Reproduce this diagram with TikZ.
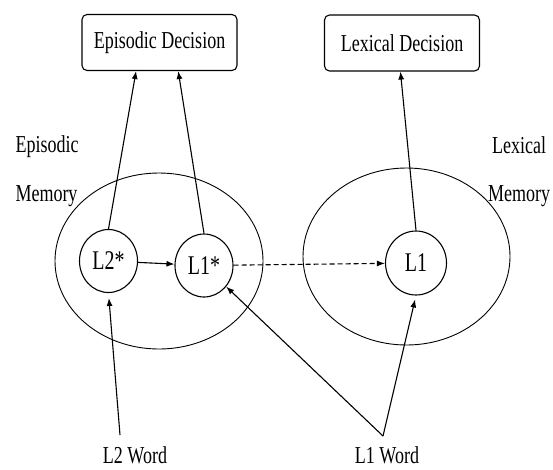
\documentclass[tikz,border=0pt]{standalone}
\usepackage{fontspec}
\usepackage{graphicx}
\setmainfont{Liberation Serif}
\usetikzlibrary{arrows.meta,shapes.geometric,calc}
\newcommand{\tallt}[1]{\scalebox{1}[1.35]{#1}}
\begin{document}
\begin{tikzpicture}[x=1pt,y=-1pt,
  font=\fontsize{18}{20}\selectfont,
  line width=1.1pt,
  decbox/.style={draw,rounded corners=5pt,minimum width=155pt,minimum height=56pt,inner sep=0pt},
  memory/.style={draw,ellipse,line width=0.9pt,inner sep=0pt},
  item/.style={draw,ellipse,inner sep=0pt,minimum width=58pt,minimum height=63pt,font=\fontsize{20}{22}\selectfont},
  arr/.style={-{Latex[length=8pt,width=6pt]}},
  lbl/.style={inner sep=0pt}]
\useasboundingbox (0,0) rectangle (553,469);
\node[decbox] (ED) at (159.5,42.5) {\tallt{Episodic Decision}};
\node[decbox] (LD) at (402,43) {\tallt{Lexical Decision}};
\node[memory,minimum width=208pt,minimum height=176pt] (EM) at (159,261) {};
\node[memory,minimum width=207pt,minimum height=177pt] (LM) at (406.5,256.5) {};
\node[lbl] (epi) at (47,147) {\tallt{Episodic}};
\node[lbl] (epim) at (46.5,196) {\tallt{Memory}};
\node[lbl] (lex) at (519,145) {\tallt{Lexical}};
\node[lbl] (lexm) at (519,196) {\tallt{Memory}};
\node[item] (L2s) at (108.5,261) {\tallt{L2*}};
\node[item] (L1s) at (204,265.5) {\tallt{L1*}};
\node[item,minimum width=61pt,minimum height=64pt] (L1) at (416,263) {\tallt{L1}};
\node[lbl] (w2) at (135,455) {\tallt{L2 Word}};
\node[lbl] (w1) at (387,455) {\tallt{L1 Word}};
\coordinate (w2top) at (120,435);
\coordinate (w1top) at (383,436);
\draw[arr] (L2s.north) -- ($(ED.south west)!0.35!(ED.south east)$);
\draw[arr] (L1s.north) -- ($(ED.south west)!0.62!(ED.south east)$);
\draw[arr] (L1.north) -- ($(LD.south west)!0.49!(LD.south east)$);
\draw[arr] (L2s) -- (L1s);
\draw[arr,dashed,dash pattern=on 5pt off 3pt] (L1s) -- (L1);
\draw[arr,shorten >=5pt] (w2top) -- (L2s.south);
\draw[arr] (w1top) -- (L1s);
\draw[arr,shorten >=4pt] (w1top) -- (L1.south);
\end{tikzpicture}
\end{document}
